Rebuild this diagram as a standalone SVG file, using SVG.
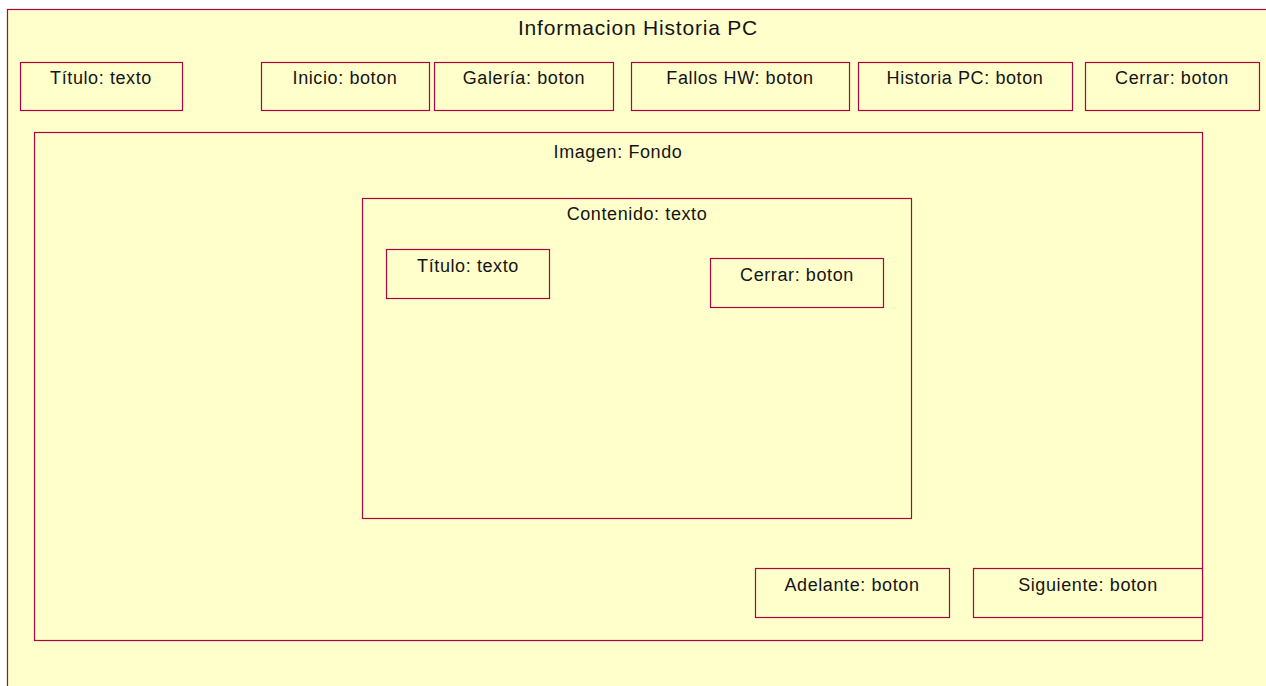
<svg xmlns="http://www.w3.org/2000/svg" width="1266" height="686" viewBox="0 0 1266 686">
  <style>
    .box { fill: #FFFFCC; stroke: #A8063F; stroke-width: 1.2; }
    .lbl { font-family: "Liberation Sans", Arial, sans-serif; font-size: 18px; letter-spacing: 0.6px; fill: #141414; text-anchor: middle; }
    .title { font-size: 21px; letter-spacing: 0.8px; }
  </style>
  <rect width="1266" height="686" fill="#FFFFFF"/>

  <!-- window frame -->
  <g id="frame">
    <rect class="box" x="7.5" y="9.5" width="1280" height="700"/>
    <text class="lbl title" x="638" y="35">Informacion Historia PC</text>
  </g>

  <!-- top bar -->
  <g id="titulo"><rect class="box" x="20.5" y="62.5" width="162" height="48"/><text class="lbl" x="101" y="84">Título: texto</text></g>
  <g id="inicio"><rect class="box" x="261.5" y="62.5" width="168" height="48"/><text class="lbl" x="345" y="84">Inicio: boton</text></g>
  <g id="galeria"><rect class="box" x="434.5" y="62.5" width="179" height="48"/><text class="lbl" x="524" y="84">Galería: boton</text></g>
  <g id="fallos"><rect class="box" x="631.5" y="62.5" width="218" height="48"/><text class="lbl" x="740" y="84">Fallos HW: boton</text></g>
  <g id="historia"><rect class="box" x="858.5" y="62.5" width="214" height="48"/><text class="lbl" x="965" y="84">Historia PC: boton</text></g>
  <g id="cerrar"><rect class="box" x="1085.5" y="62.5" width="174" height="48"/><text class="lbl" x="1172" y="84">Cerrar: boton</text></g>

  <!-- background image area -->
  <g id="imagen"><rect class="box" x="34.5" y="132.5" width="1168" height="508"/><text class="lbl" x="618" y="158">Imagen: Fondo</text></g>

  <!-- content panel -->
  <g id="contenido"><rect class="box" x="362.5" y="198.5" width="549" height="320"/><text class="lbl" x="637" y="220">Contenido: texto</text></g>
  <g id="contenido-titulo"><rect class="box" x="386.5" y="249.5" width="163" height="49"/><text class="lbl" x="468" y="272">Título: texto</text></g>
  <g id="contenido-cerrar"><rect class="box" x="710.5" y="258.5" width="173" height="49"/><text class="lbl" x="797" y="281">Cerrar: boton</text></g>

  <!-- navigation -->
  <g id="adelante"><rect class="box" x="755.5" y="568.5" width="194" height="49"/><text class="lbl" x="852" y="591">Adelante: boton</text></g>
  <g id="siguiente"><rect class="box" x="973.5" y="568.5" width="229" height="49"/><text class="lbl" x="1088" y="591">Siguiente: boton</text></g>
</svg>
